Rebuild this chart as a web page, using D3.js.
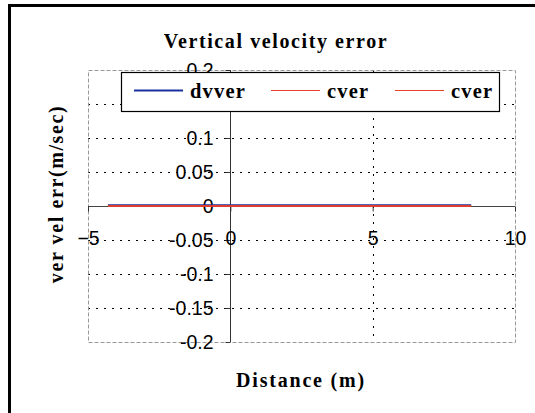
<!DOCTYPE html>
<html><head><meta charset="utf-8">
<script src="https://cdn.jsdelivr.net/npm/d3@7"></script>
<style>body{margin:0;background:#fff}svg{display:block}</style>
</head><body>
<svg id="c" width="535" height="413"></svg>
<script>
const distance = [-4.3, -3, -2, -1, 0, 1, 2, 3, 4, 5, 6, 7, 8, 8.46];
const dvver = [0.001, 0.001, 0.001, 0.001, 0.001, 0.001, 0.001, 0.001, 0.001, 0.001, 0.001, 0.001, 0.001, 0.001];
const cver1 = [0, 0, 0, 0, 0, 0, 0, 0, 0, 0, 0, 0, 0, 0];
const cver2 = [0, 0, 0, 0, 0, 0, 0, 0, 0, 0, 0, 0, 0, 0];
const xTicks = [-5, 0, 5, 10];
const yTicks = [-0.2, -0.15, -0.1, -0.05, 0, 0.05, 0.1, 0.15, 0.2];
const seriesNames = ["dvver", "cver", "cver"];
const seriesColors = ["#1a2fa0", "#e8402a", "#e8402a"];
const title = "Vertical velocity error";
const xTitle = "Distance (m)";
const yTitle = "ver vel err(m/sec)";

const svg = d3.select("#c");
const L = 88, R = 515, T = 70, B = 342;
const x = d3.scaleLinear().domain([-5, 10]).range([L, R]);
const y = d3.scaleLinear().domain([-0.2, 0.2]).range([B, T]);

// outer frame
svg.append("rect").attr("x", 9.5).attr("y", 5.5).attr("width", 700).attr("height", 700)
  .attr("fill", "none").attr("stroke", "#000").attr("stroke-width", 3);

// grid
const g = svg.append("g");
g.selectAll(".hg").data(yTicks.filter(v => Math.abs(v) > 1e-9 && Math.abs(v) < 0.19)).enter()
  .append("line").attr("x1", L).attr("x2", R).attr("y1", d => Math.round(y(d)) + 0.5).attr("y2", d => Math.round(y(d)) + 0.5)
  .attr("stroke", "#000").attr("stroke-dasharray", "2,6");
g.selectAll(".vg").data(xTicks.filter(v => v > 0 && v < 10)).enter()
  .append("line").attr("y1", T).attr("y2", B).attr("x1", d => Math.round(x(d)) + 0.5).attr("x2", d => Math.round(x(d)) + 0.5)
  .attr("stroke", "#000").attr("stroke-dasharray", "2,6");

// plot border
svg.append("rect").attr("x", L + 0.5).attr("y", T + 0.5).attr("width", R - L).attr("height", B - T)
  .attr("fill", "none").attr("stroke", "#999").attr("stroke-dasharray", "4,2");

// axes
const yAxisX = Math.round(x(0)) + 0.5;
const xAxisY = Math.round(y(0)) + 0.5;
svg.append("line").attr("x1", L).attr("x2", R).attr("y1", xAxisY).attr("y2", xAxisY).attr("stroke", "#444");
svg.append("line").attr("x1", yAxisX).attr("x2", yAxisX).attr("y1", T).attr("y2", B).attr("stroke", "#333");

const ya = d3.axisLeft(y).tickValues(yTicks).tickSize(5).tickPadding(12)
  .tickFormat(d => Math.abs(d) < 1e-9 ? "0" : String(+d.toFixed(2)));
const yg = svg.append("g").attr("transform", `translate(${yAxisX},0)`).call(ya);
yg.select(".domain").remove();
yg.selectAll("line").attr("stroke", "#333");
yg.selectAll("text").attr("font-family", "Liberation Sans, Arial, sans-serif").attr("font-size", 19.5).attr("fill", "#000");

const xa = d3.axisBottom(x).tickValues(xTicks).tickSize(5).tickPadding(20).tickFormat(d3.format("d"));
const xg = svg.append("g").attr("transform", `translate(0,${xAxisY})`).call(xa);
xg.select(".domain").remove();
xg.selectAll("line").attr("stroke", "#333");
xg.selectAll("text").attr("font-family", "Liberation Sans, Arial, sans-serif").attr("font-size", 19.5).attr("fill", "#000");

// data
const series = [dvver, cver1, cver2];
const line = d3.line().x((d, i) => x(distance[i])).y(d => y(d));
series.forEach((s, i) => {
  svg.append("path").datum(s).attr("d", line).attr("fill", "none")
    .attr("stroke", seriesColors[i]).attr("stroke-width", i === 0 ? 2 : 1.5);
});

// legend
const lg = svg.append("g");
lg.append("rect").attr("x", 121.5).attr("y", 72.5).attr("width", 378).attr("height", 39)
  .attr("fill", "#fff").attr("stroke", "#000").attr("stroke-width", 1.2);
const legX = [134, 271, 395];
seriesNames.forEach((n, i) => {
  lg.append("line").attr("x1", legX[i]).attr("x2", legX[i] + 49).attr("y1", 90.5).attr("y2", 90.5)
    .attr("stroke", seriesColors[i]).attr("stroke-width", i === 0 ? 2 : 1);
  lg.append("text").attr("x", legX[i] + 56).attr("y", 97.5).text(n)
    .attr("font-family", "Liberation Serif, Times New Roman, serif").attr("font-weight", "bold")
    .attr("font-size", 20.5).attr("letter-spacing", 1.2);
});

// titles
svg.append("text").attr("x", 276).attr("y", 48).attr("text-anchor", "middle").text(title)
  .attr("font-family", "Liberation Serif, Times New Roman, serif").attr("font-weight", "bold").attr("font-size", 20).attr("letter-spacing", 1.6);
svg.append("text").attr("x", 301).attr("y", 387).attr("text-anchor", "middle").text(xTitle)
  .attr("font-family", "Liberation Serif, Times New Roman, serif").attr("font-weight", "bold").attr("font-size", 20).attr("letter-spacing", 1.8);
svg.append("text").attr("transform", "translate(63,194) rotate(-90)").attr("text-anchor", "middle").text(yTitle)
  .attr("font-family", "Liberation Serif, Times New Roman, serif").attr("font-weight", "bold").attr("font-size", 20).attr("letter-spacing", 1.6);
</script>
</body></html>
